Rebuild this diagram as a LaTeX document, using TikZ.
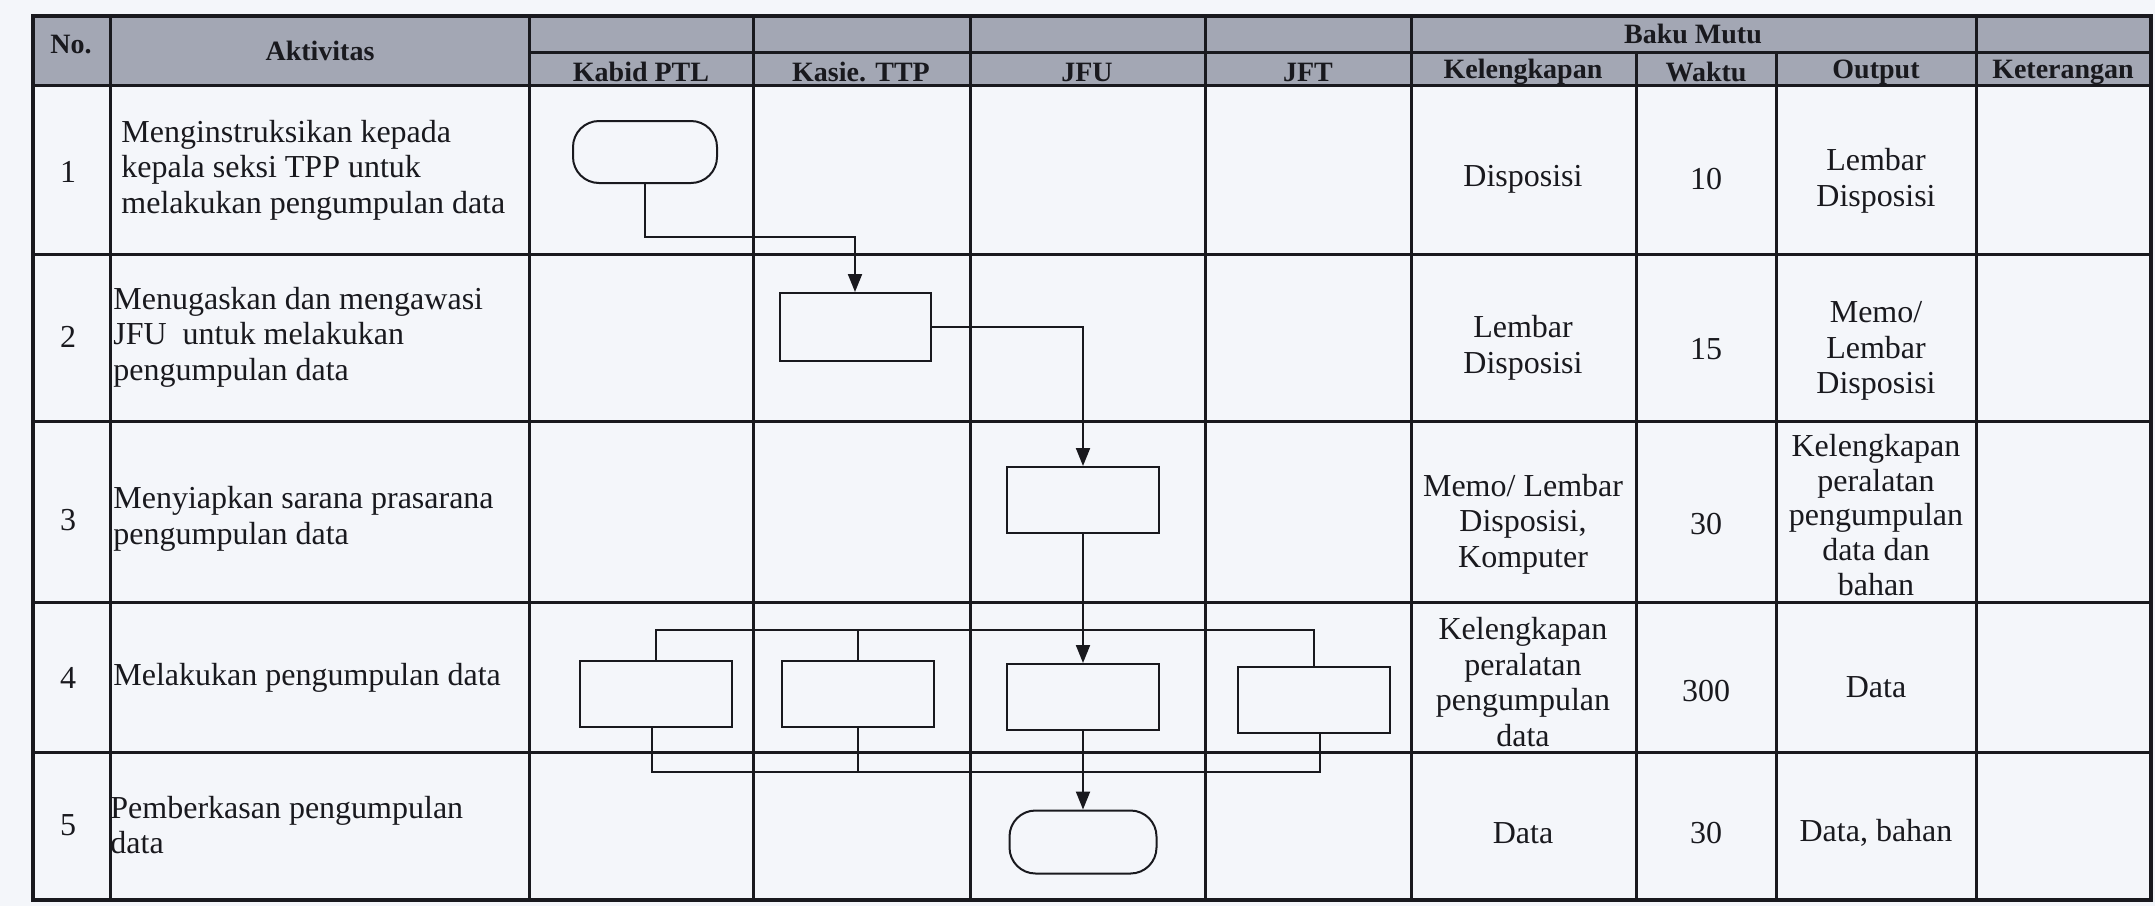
\documentclass[tikz,border=0pt]{standalone}
\usepackage{fontspec}
\setmainfont{Liberation Serif}
\usetikzlibrary{arrows.meta}
\definecolor{bg}{RGB}{244,246,250}
\definecolor{hdr}{RGB}{163,167,180}
\definecolor{ink}{RGB}{25,25,30}
\begin{document}
\begin{tikzpicture}[x=0.5pt,y=-0.5pt,
  grid/.style={line width=1.5pt, draw=ink},
  box/.style={draw=ink, line width=1pt, minimum width=76pt, minimum height=33pt, inner sep=0pt},
  term/.style={box, rounded corners=13pt},
  flow/.style={draw=ink, line width=1pt},
  arr/.style={flow, -{Triangle[length=9pt,width=7pt]}},
  txt/.style={font=\fontsize{16}{17.75}\selectfont, text=ink, inner sep=0pt},
  hd/.style={font=\bfseries\fontsize{14}{16}\selectfont, text=ink, inner sep=0pt},
]
\useasboundingbox (0,0) rectangle (2155,906);
\fill[bg] (0,0) rectangle (2155,906);
% header shading
\fill[hdr] (33,16) rectangle (2151,85);
% grid
\draw[grid] (529,52) -- (2151,52);
\foreach \yy in {85,254,421,602,752} \draw[grid] (33,\yy) -- (2151,\yy);
\foreach \xx in {110,529,753,970,1205,1411,1976} \draw[grid] (\xx,16) -- (\xx,900);
\foreach \xx in {1636,1776} \draw[grid] (\xx,52) -- (\xx,900);
\draw[grid, line width=2pt] (33,16) rectangle (2151,900);

% header texts
\node[hd] (hNo) at (71,45) {No.};
\node[hd] (hAkt) at (320,51) {Aktivitas};
\node[hd] (hBaku) at (1693,34) {Baku Mutu};
\node[hd] (hKab) at (641,72) {Kabid PTL};
\node[hd] (hKas) at (861,72) {Kasie. TTP};
\node[hd] (hJFU) at (1087,72) {JFU};
\node[hd] (hJFT) at (1308,72) {JFT};
\node[hd] (hKel) at (1523,72) {Kelengkapan};
\node[hd] (hWak) at (1706,72) {Waktu};
\node[hd] (hOut) at (1876,72) {Output};
\node[hd] (hKet) at (2063,72) {Keterangan};

% numbers
\node[txt] (n1) at (68,172) {1};
\node[txt] (n2) at (68,337) {2};
\node[txt] (n3) at (68,520) {3};
\node[txt] (n4) at (68,678) {4};
\node[txt] (n5) at (68,825) {5};

% activities
\node[txt, align=left, anchor=west] (a1) at (121,170) {Menginstruksikan kepada\\kepala seksi TPP untuk\\melakukan pengumpulan data};
\node[txt, align=left, anchor=west] (a2) at (113,337) {Menugaskan dan mengawasi\\JFU\ \ untuk melakukan\\pengumpulan data};
\node[txt, align=left, anchor=west] (a3) at (113,519) {Menyiapkan sarana prasarana\\pengumpulan data};
\node[txt, align=left, anchor=west] (a4) at (113,678) {Melakukan pengumpulan data};
\node[txt, align=left, anchor=west] (a5) at (110,825) {Pemberkasan pengumpulan\\data};

% kelengkapan
\node[txt, align=center] (k1) at (1523,179) {Disposisi};
\node[txt, align=center] (k2) at (1523,348) {Lembar\\Disposisi};
\node[txt, align=center] (k3) at (1523,524) {Memo/ Lembar\\Disposisi,\\Komputer};
\node[txt, align=center] (k4) at (1523,682) {Kelengkapan\\peralatan\\pengumpulan\\data};
\node[txt, align=center] (k5) at (1523,833) {Data};

% waktu
\node[txt] (w1) at (1706,179) {10};
\node[txt] (w2) at (1706,349) {15};
\node[txt] (w3) at (1706,524) {30};
\node[txt] (w4) at (1706,691) {300};
\node[txt] (w5) at (1706,833) {30};

% output
\node[txt, align=center] (o1) at (1876,181) {Lembar\\Disposisi};
\node[txt, align=center] (o2) at (1876,351) {Memo/\\Lembar\\Disposisi};
\node[txt, align=center, font=\fontsize{16}{17.4}\selectfont] (o3) at (1876,515) {Kelengkapan\\peralatan\\pengumpulan\\data dan\\bahan};
\node[txt, align=center] (o4) at (1876,687) {Data};
\node[txt, align=center] (o5) at (1876,833) {Data, bahan};

% flow shapes
\node[term, minimum width=72pt, minimum height=31pt] (t1) at (645,152) {};
\node[box, minimum width=75.5pt, minimum height=34pt] (b2) at (855,327) {};
\node[box] (b3) at (1083,500) {};
\node[box] (b4a) at (656,694) {};
\node[box] (b4b) at (858,694) {};
\node[box] (b4c) at (1083,697) {};
\node[box] (b4d) at (1314,700) {};
\node[term, minimum width=73.5pt, minimum height=31.5pt] (t5) at (1083,842) {};

% connectors
\draw[arr] (t1.south) -- ++(0,53) -| (b2.north);
\draw[arr] (b2.east) -| (b3.north);
\draw[arr] (b3.south) -- (b4c.north);
\draw[arr] (b4c.south) -- (t5.north);

\coordinate (busT) at (0,630);
\coordinate (busB) at (0,772);
\draw[flow] (b4a.north) -- (b4a.north |- busT) -- (b4d.north |- busT) -- (b4d.north);
\draw[flow] (b4b.north) -- (b4b.north |- busT);
\draw[flow] ([xshift=-2pt]b4a.south) -- ([xshift=-2pt]b4a.south |- busB) -- ([xshift=3pt]b4d.south |- busB) -- ([xshift=3pt]b4d.south);
\draw[flow] (b4b.south) -- (b4b.south |- busB);
\end{tikzpicture}
\end{document}
